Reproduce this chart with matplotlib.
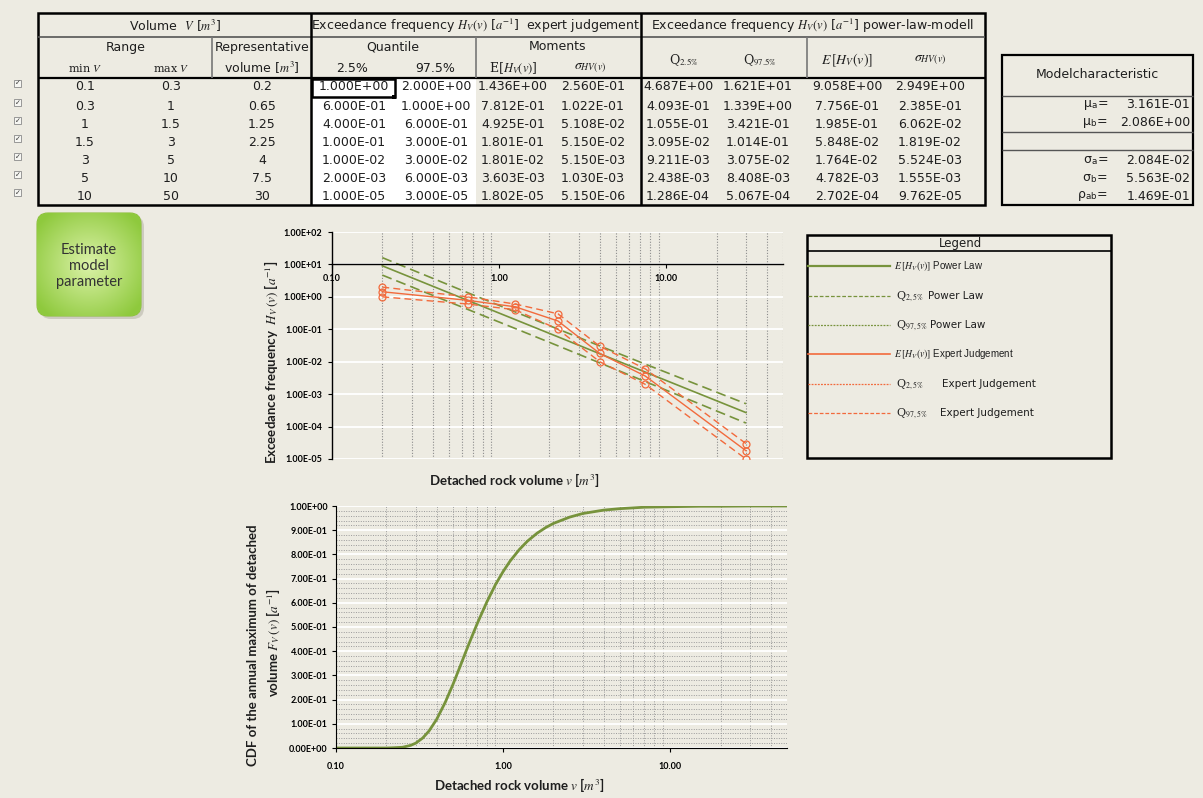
import matplotlib
matplotlib.use("Agg")
from matplotlib import pyplot as plt, ticker
from matplotlib.patches import Rectangle, FancyBboxPatch
import numpy as np

W, H = 1203, 798
PAGE = "#EDEBE2"
GREEN = "#77933C"
RED = "#F26A3C"
INK = "#1E1E1E"

# volume classes
min_v = [0.1, 0.3, 1, 1.5, 3, 5, 10]
max_v = [0.3, 1, 1.5, 3, 5, 10, 50]
rep_v = [0.2, 0.65, 1.25, 2.25, 4, 7.5, 30]

# expert judgement: quantiles and moments
ej_q025 = [1.000e+00, 6.000e-01, 4.000e-01, 1.000e-01, 1.000e-02, 2.000e-03, 1.000e-05]
ej_q975 = [2.000e+00, 1.000e+00, 6.000e-01, 3.000e-01, 3.000e-02, 6.000e-03, 3.000e-05]
ej_mean = [1.436e+00, 7.812e-01, 4.925e-01, 1.801e-01, 1.801e-02, 3.603e-03, 1.802e-05]
ej_std = [2.560e-01, 1.022e-01, 5.108e-02, 5.150e-02, 5.150e-03, 1.030e-03, 5.150e-06]

# power-law model
pl_q025 = [4.687e+00, 4.093e-01, 1.055e-01, 3.095e-02, 9.211e-03, 2.438e-03, 1.286e-04]
pl_q975 = [1.621e+01, 1.339e+00, 3.421e-01, 1.014e-01, 3.075e-02, 8.408e-03, 5.067e-04]
pl_mean = [9.058e+00, 7.756e-01, 1.985e-01, 5.848e-02, 1.764e-02, 4.782e-03, 2.702e-04]
pl_std = [2.949e+00, 2.385e-01, 6.062e-02, 1.819e-02, 5.524e-03, 1.555e-03, 9.762e-05]

# fitted model parameters
par_mu = [("μ$_\\mathregular{a}$=", 3.161e-01), ("μ$_\\mathregular{b}$=", 2.086e+00)]
par_sd = [("σ$_\\mathregular{a}$=", 2.084e-02), ("σ$_\\mathregular{b}$=", 5.563e-02),
          ("ρ$_\\mathregular{ab}$=", 1.469e-01)]

# CDF of the annual maximum volume
cdf_v = [0.10, 0.15, 0.20, 0.22, 0.25, 0.28, 0.30, 0.33, 0.36, 0.40, 0.45, 0.50,
         0.55, 0.60, 0.65, 0.70, 0.80, 0.90, 1.00, 1.10, 1.25, 1.40, 1.60, 1.80,
         2.00, 2.50, 3.00, 4.00, 5.00, 7.00, 10.0, 15.0, 20.0, 30.0, 50.0]
cdf_f = [0.000, 0.000, 0.000, 0.001, 0.003, 0.011, 0.020, 0.041, 0.070, 0.118, 0.188, 0.261,
         0.333, 0.400, 0.460, 0.514, 0.604, 0.675, 0.729, 0.772, 0.820, 0.855, 0.888, 0.911,
         0.928, 0.954, 0.969, 0.983, 0.989, 0.995, 0.997, 0.999, 0.999, 1.000, 1.000]

plt.rcParams["mathtext.fontset"] = "stix"
plt.rcParams["font.family"] = "DejaVu Sans"


def px_rect(x0, y0, x1, y1):
    return [x0 / W, 1 - y1 / H, (x1 - x0) / W, (y1 - y0) / H]


fig = plt.figure(figsize=(W / 100, H / 100), dpi=100)
fig.patch.set_facecolor(PAGE)

bg = fig.add_axes([0, 0, 1, 1])
bg.set_xlim(0, W)
bg.set_ylim(H, 0)
bg.axis("off")


def hline(x0, x1, y, lw=1.2, c=INK):
    bg.plot([x0, x1], [y, y], color=c, lw=lw, solid_capstyle="butt")


def vline(x, y0, y1, lw=1.2, c=INK):
    bg.plot([x, x], [y0, y1], color=c, lw=lw, solid_capstyle="butt")


def cell(x, y, s, size=9, ha="center", **kw):
    bg.text(x, y, s, fontsize=size, ha=ha, va="center", color=INK, **kw)


# ---- main table ----
bg.add_patch(Rectangle((312, 78), 164, 127, fc="white", ec="none"))
bg.add_patch(Rectangle((38, 13), 947, 192, fill=False, ec="black", lw=1.8))
hline(38, 985, 37, lw=1.2, c="#555555")
hline(38, 985, 78, lw=1.6, c="black")
vline(311, 13, 205, lw=1.8, c="black")
vline(641, 13, 205, lw=1.8, c="black")
vline(212, 37, 78, c="#777777")
vline(476, 37, 78, c="#777777")
vline(807, 37, 78, c="#777777")

cell(175, 26, "Volume  $V$ [$m^3$]")
cell(476, 26, "Exceedance frequency $H_V(v)$ [$a^{-1}$]  expert judgement")
cell(813, 26, "Exceedance frequency $H_V(v)$ [$a^{-1}$] power-law-modell")
cell(126, 47, "Range")
cell(262, 47, "Representative")
cell(393, 47, "Quantile")
cell(558, 47, "Moments")
cell(85, 68, "min $V$", family="DejaVu Serif", size=8)
cell(171, 68, "max $V$", family="DejaVu Serif", size=8)
cell(262, 68, "volume [$m^3$]")
cell(352, 68, "2.5%")
cell(435, 68, "97.5%")
cell(513, 68, "E[$H_V(v)$]", family="DejaVu Serif")
cell(590, 68, "$\\sigma_{HV(v)}$", size=10)
cell(684, 60, "Q$_{2.5\\%}$", family="DejaVu Serif", size=9)
cell(760, 60, "Q$_{97.5\\%}$", family="DejaVu Serif", size=9)
cell(847, 60, "$E\\,[H_V(v)]$", size=10)
cell(930, 60, "$\\sigma_{HV(v)}$", size=10)

row_y = [87, 106, 124, 142, 160, 178, 196]
for i, y in enumerate(row_y):
    # checkbox in front of each row
    bg.add_patch(Rectangle((14, y - 7), 7, 7, fc="#F6F6F2", ec="#8A8A8A", lw=0.6))
    bg.text(17.5, y - 3.5, "✓", fontsize=5, ha="center", va="center", color="#333333")
    cell(85, y, f"{min_v[i]:g}")
    cell(171, y, f"{max_v[i]:g}")
    cell(262, y, f"{rep_v[i]:g}")
    cell(354, y, f"{ej_q025[i]:.3E}")
    cell(436, y, f"{ej_q975[i]:.3E}")
    cell(513, y, f"{ej_mean[i]:.3E}")
    cell(593, y, f"{ej_std[i]:.3E}")
    cell(678, y, f"{pl_q025[i]:.3E}")
    cell(758, y, f"{pl_q975[i]:.3E}")
    cell(847, y, f"{pl_mean[i]:.3E}")
    cell(930, y, f"{pl_std[i]:.3E}")

# active cell frame
bg.add_patch(Rectangle((312, 79), 83, 18, fill=False, ec="black", lw=1.8))
bg.add_patch(Rectangle((392, 95), 4, 4, fc="black", ec="none"))

# ---- model characteristic box ----
bg.add_patch(Rectangle((1002, 55), 191, 150, fill=False, ec="black", lw=1.6))
hline(1002, 1193, 96, lw=1.0, c="#555555")
hline(1002, 1193, 132, lw=1.0, c="#555555")
hline(1002, 1193, 150, lw=1.0, c="#555555")
cell(1097, 75, "Modelcharacteristic")
for (lab, val), y in zip(par_mu + par_sd, [105, 123, 160, 178, 196]):
    cell(1108, y, lab, ha="right")
    cell(1190, y, f"{val:.3E}", ha="right")

# ---- button ----
bg.add_patch(FancyBboxPatch((40, 216), 104, 103, boxstyle="round,pad=0,rounding_size=11",
                            fc="#B9B6AA", ec="none", alpha=0.6))
btn = FancyBboxPatch((37, 213), 104, 103, boxstyle="round,pad=0,rounding_size=11",
                     fc="none", ec="#8DBE3C", lw=0.8)
bg.add_patch(btn)
gx, gy = np.meshgrid(np.linspace(-1, 1, 120), np.linspace(-1, 1, 120))
rr = np.clip(np.sqrt(gx ** 2 + gy ** 2) / 1.25, 0, 1)
c_in = np.array([0.86, 0.95, 0.66])
c_out = np.array([0.56, 0.79, 0.24])
grad = c_in[None, None, :] * (1 - rr[..., None]) + c_out[None, None, :] * rr[..., None]
im = bg.imshow(grad, extent=(37, 141, 316, 213), aspect="auto", zorder=1.5)
im.set_clip_path(btn)
bg.set_xlim(0, W)
bg.set_ylim(H, 0)
bg.text(89, 266, "Estimate\nmodel\nparameter", fontsize=10.5, ha="center", va="center",
        family="Lato", color="#333333", linespacing=1.2, zorder=3)

# ---- legend box ----
bg.add_patch(Rectangle((807, 235), 304, 223, fill=False, ec="black", lw=1.8))
hline(807, 1111, 251, lw=1.2, c="black")
cell(960, 243, "Legend", size=8.5)
leg = [
    (266, GREEN, "-", 1.6, "$E\\,[H_V(v)]$", "Power Law", 894, 7),
    (296, GREEN, (0, (3, 1.5)), 0.9, "Q$_{2,5\\%}$", "Power Law", 928, 7.5),
    (325, GREEN, (0, (1.5, 1)), 0.9, "Q$_{97,5\\%}$", "Power Law", 930, 7.5),
    (354, RED, "-", 1.2, "$E\\,[H_V(v)]$", "Expert Judgement", 894, 7),
    (384, RED, (0, (1.5, 1)), 0.9, "Q$_{2,5\\%}$", "Expert Judgement", 942, 7.5),
    (413, RED, (0, (3, 1.5)), 0.9, "Q$_{97,5\\%}$", "Expert Judgement", 940, 7.5),
]
for y, col, ls, lw, sym, name, xname, fs in leg:
    bg.plot([808, 890], [y, y], color=col, ls=ls, lw=lw)
    if xname == 894:
        bg.text(894, y, sym + " " + name, fontsize=fs, ha="left", va="center", color=INK,
                family="Liberation Sans")
    else:
        bg.text(896, y + 1, sym, fontsize=8, ha="left", va="center", color=INK,
                family="DejaVu Serif")
        bg.text(xname, y, name, fontsize=fs, ha="left", va="center", color=INK)

lab_kw = dict(family="Lato", fontweight="bold", color=INK)

# ---- exceedance frequency chart ----
ax1 = fig.add_axes(px_rect(332, 232, 783, 459))
ax1.set_facecolor(PAGE)
ax1.set_xscale("log")
ax1.set_yscale("log")
ax1.set_xlim(0.1, 50)
ax1.set_ylim(1e-5, 1e2)
for s in ["top", "right"]:
    ax1.spines[s].set_visible(False)
ax1.spines["bottom"].set_position(("data", 10))
ax1.spines["left"].set_linewidth(1.0)
ax1.spines["bottom"].set_linewidth(1.0)
ax1.xaxis.set_major_locator(ticker.FixedLocator([0.1, 1, 10]))
ax1.xaxis.set_major_formatter(ticker.FormatStrFormatter("%.2f"))
ax1.xaxis.set_minor_locator(ticker.LogLocator(base=10, subs=np.arange(2, 10), numticks=20))
ax1.xaxis.set_minor_formatter(ticker.NullFormatter())
ax1.yaxis.set_major_locator(ticker.LogLocator(base=10, numticks=20))
ax1.yaxis.set_major_formatter(ticker.FuncFormatter(lambda v, p: f"{v:.2E}"))
ax1.yaxis.set_minor_locator(ticker.NullLocator())
ax1.tick_params(axis="both", which="major", length=3, width=0.8, labelsize=6.5, pad=4)
ax1.tick_params(axis="x", which="minor", length=0)
for t in ax1.get_xticklabels() + ax1.get_yticklabels():
    t.set_fontweight("bold")
    t.set_family("Lato")
ax1.grid(which="major", axis="y", color="white", lw=1.3)
ax1.grid(which="minor", axis="x", color="#8C8C8C", ls=(0, (1, 1.5)), lw=0.8)
ax1.set_axisbelow(True)

ax1.plot(rep_v, pl_mean, color=GREEN, lw=1.2)
ax1.plot(rep_v, pl_q025, color=GREEN, lw=1.2, ls=(0, (6, 3)))
ax1.plot(rep_v, pl_q975, color=GREEN, lw=1.2, ls=(0, (6, 3)))
mk = dict(marker="o", ms=5, mfc="none", mew=0.9)
ax1.plot(rep_v, ej_mean, color=RED, lw=1.0, **mk)
ax1.plot(rep_v, ej_q025, color=RED, lw=1.0, ls=(0, (5, 3)), **mk)
ax1.plot(rep_v, ej_q975, color=RED, lw=1.0, ls=(0, (5, 3)), **mk)

bg.text(271, 362, "Exceedance frequency  $H_V\\,(v)$ [$a^{-1}$]", rotation=90,
        fontsize=9.5, ha="center", va="center", **lab_kw)
bg.text(514, 480, "Detached rock volume $v$ [$m^3$]", fontsize=9.5, ha="center",
        va="center", **lab_kw)

# ---- CDF chart ----
ax2 = fig.add_axes(px_rect(336, 506, 787, 748))
ax2.set_facecolor(PAGE)
ax2.set_xscale("log")
ax2.set_xlim(0.1, 50)
ax2.set_ylim(0, 1)
for s in ["top", "right"]:
    ax2.spines[s].set_visible(False)
ax2.xaxis.set_major_locator(ticker.FixedLocator([0.1, 1, 10]))
ax2.xaxis.set_major_formatter(ticker.FormatStrFormatter("%.2f"))
ax2.xaxis.set_minor_locator(ticker.LogLocator(base=10, subs=np.arange(2, 10), numticks=20))
ax2.xaxis.set_minor_formatter(ticker.NullFormatter())
ax2.yaxis.set_major_locator(ticker.MultipleLocator(0.1))
ax2.yaxis.set_minor_locator(ticker.MultipleLocator(0.02))
ax2.yaxis.set_major_formatter(ticker.FuncFormatter(lambda v, p: f"{v:.2E}"))
ax2.tick_params(axis="both", which="major", length=3, width=0.8, labelsize=6.5, pad=3)
ax2.tick_params(axis="x", which="major", pad=7)
ax2.tick_params(which="minor", length=0)
for t in ax2.get_xticklabels() + ax2.get_yticklabels():
    t.set_fontweight("bold")
    t.set_family("Lato")
ax2.grid(which="minor", color="#9A9A9A", ls=(0, (1, 1.5)), lw=0.7)
ax2.grid(which="major", axis="y", color="white", lw=1.3)
ax2.set_axisbelow(True)
ax2.plot(cdf_v, cdf_f, color=GREEN, lw=2.0)

bg.text(253, 645, "CDF of the annual maximum of detached", rotation=90,
        fontsize=9.5, ha="center", va="center", **lab_kw)
bg.text(273, 643, "volume $F_V\\,(v)$ [$a^{-1}$]", rotation=90,
        fontsize=9.5, ha="center", va="center", **lab_kw)
bg.text(519, 785, "Detached rock volume $v$ [$m^3$]", fontsize=9.5, ha="center",
        va="center", **lab_kw)

fig.savefig("out.png", dpi=100, facecolor=PAGE)
